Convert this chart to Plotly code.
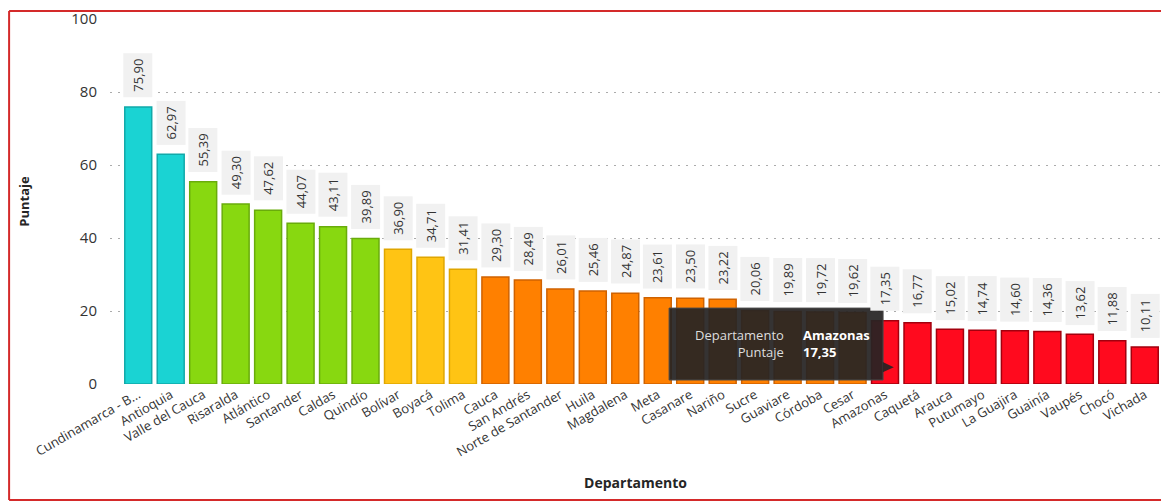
import plotly.graph_objects as go

departamentos = ["Cundinamarca - B...", "Antioquia", "Valle del Cauca", "Risaralda", "Atlántico",
                 "Santander", "Caldas", "Quindío", "Bolívar", "Boyacá", "Tolima", "Cauca",
                 "San Andrés", "Norte de Santander", "Huila", "Magdalena", "Meta", "Casanare",
                 "Nariño", "Sucre", "Guaviare", "Córdoba", "Cesar", "Amazonas", "Caquetá",
                 "Arauca", "Putumayo", "La Guajira", "Guainía", "Vaupés", "Chocó", "Vichada"]
puntaje = [75.90, 62.97, 55.39, 49.30, 47.62, 44.07, 43.11, 39.89, 36.90, 34.71, 31.41,
           29.30, 28.49, 26.01, 25.46, 24.87, 23.61, 23.50, 23.22, 20.06, 19.89, 19.72,
           19.62, 17.35, 16.77, 15.02, 14.74, 14.60, 14.36, 13.62, 11.88, 10.11]
grupo = ["a"] * 2 + ["b"] * 6 + ["c"] * 3 + ["d"] * 12 + ["e"] * 9
y_ticks = [0, 20, 40, 60, 80, 100]

fill = {"a": "#1AD3D3", "b": "#88D810", "c": "#FFC414", "d": "#FF8000", "e": "#FF0A1E"}
edge = {"a": "#11A9A9", "b": "#69AC0B", "c": "#E0A600", "d": "#CF6200", "e": "#A3000E"}

def fmt(v):
    return f"{v:.2f}".replace(".", ",")

font = "Open Sans"
fig = go.Figure()
fig.add_trace(go.Bar(
    x=departamentos, y=puntaje,
    marker=dict(color=[fill[g] for g in grupo],
                line=dict(color=[edge[g] for g in grupo], width=1.5)),
    hovertemplate="Departamento %{x}<br>Puntaje %{y:.2f}<extra></extra>",
))

for d, v in zip(departamentos, puntaje):
    fig.add_annotation(x=d, y=v, xref="x", yref="y", text=fmt(v), textangle=-90,
                       showarrow=False, yanchor="bottom", yshift=9,
                       font=dict(family=font, size=13, color="#333333"),
                       bgcolor="#F1F1F1", borderpad=5)

# tooltip for Amazonas
sel = departamentos.index("Amazonas")
fig.add_shape(type="rect", xref="x", yref="y", x0=sel - 6.65, x1=sel - 0.06, y0=1.1, y1=20.8,
              fillcolor="rgba(38,36,35,0.93)", line=dict(width=1, color="#4a4a4a"), layer="above")
fig.add_shape(type="path", xref="x", yref="y",
              path=f"M {sel - 0.07} 6.0 L {sel + 0.27} 4.6 L {sel - 0.07} 3.2 Z",
              fillcolor="rgba(38,36,35,0.93)", line=dict(width=0), layer="above")
fig.add_annotation(x=sel - 3.05, y=11.0, xref="x", yref="y", showarrow=False,
                   xanchor="right", align="right",
                   text="Departamento<br>Puntaje",
                   font=dict(family=font, size=13, color="#DDDDDD"))
fig.add_annotation(x=sel - 2.6, y=11.0, xref="x", yref="y", showarrow=False,
                   xanchor="left", align="left",
                   text=f"<b>{departamentos[sel]}</b><br><b>{fmt(puntaje[sel])}</b>",
                   font=dict(family=font, size=13, color="#FFFFFF"))

# red frame: left, top and bottom edges (right edge lies outside the window)
frame = dict(color="#D42A2A", width=2)
fig.add_shape(type="line", xref="paper", yref="paper", x0=-0.096, x1=1.0076, y0=1.022, y1=1.022, line=frame)
fig.add_shape(type="line", xref="paper", yref="paper", x0=-0.096, x1=-0.096, y0=-0.318, y1=1.022, line=frame)
fig.add_shape(type="line", xref="paper", yref="paper", x0=-0.096, x1=1.0076, y0=-0.318, y1=-0.318, line=frame)

fig.update_layout(
    width=1161, height=495,
    margin=dict(l=102, r=8, t=11, b=119, autoexpand=False),
    paper_bgcolor="white", plot_bgcolor="white",
    bargap=0.17, showlegend=False,
    separators=",.",
    font=dict(family=font, color="#333333"),
    xaxis=dict(range=[-0.87, 31.5], tickangle=-30, tickfont=dict(size=13, color="#333333"),
               showgrid=False, showline=False, ticks="", automargin=False,
               title=dict(text="<b>Departamento</b>", font=dict(size=14, color="#252525"), standoff=18)),
    yaxis=dict(range=[0, 100], tickvals=y_ticks, tickfont=dict(size=15, color="#333333"),
               showgrid=True, gridcolor="#ABABAB", griddash="2px,6px", gridwidth=1.2,
               zeroline=False, showline=False, ticks="", ticklabelstandoff=12, automargin=False,
               title=dict(text="<b>Puntaje</b>", font=dict(size=13, color="#252525"), standoff=38)),
)

fig.write_html("out.html")
